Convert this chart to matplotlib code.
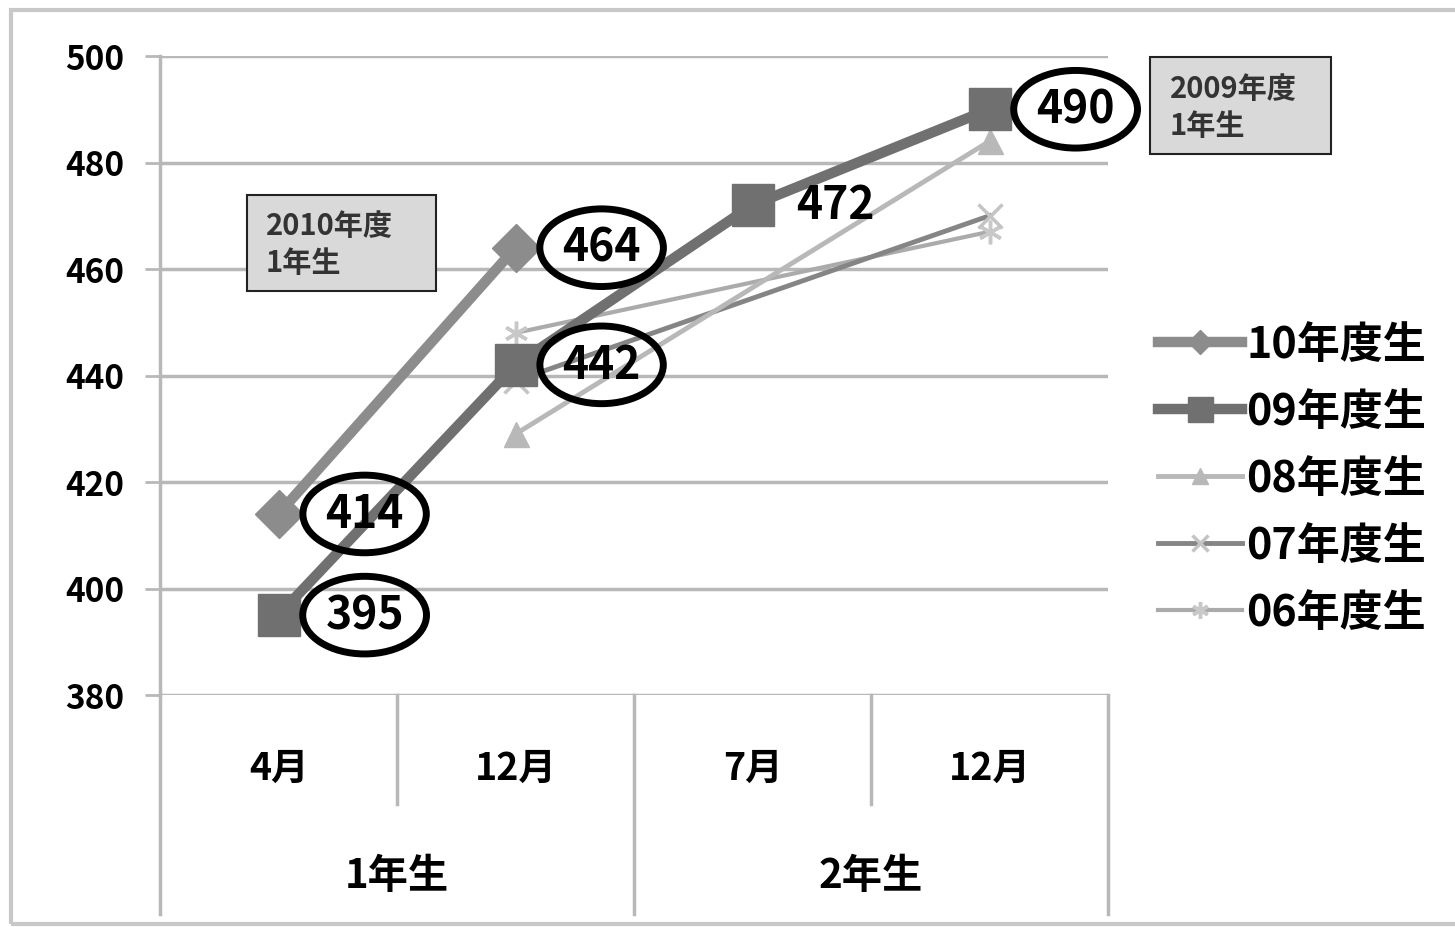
import matplotlib
matplotlib.use("Agg")
import matplotlib.pyplot as plt
from matplotlib.patches import Rectangle
from matplotlib.lines import Line2D
import matplotlib.transforms as mtransforms

plt.rcParams['font.family'] = ['Noto Sans CJK JP', 'DejaVu Sans']

# ---------------- data ----------------
months = ["4月", "12月", "7月", "12月"]
groups = ["1年生", "2年生"]
series_names = ["10年度生", "09年度生", "08年度生", "07年度生", "06年度生"]
s10 = [414, 464, None, None]
s09 = [395, 442, 472, 490]
s08 = [None, 429, None, 484]
s07 = [None, 439, None, 470]
s06 = [None, 448, None, 467]
yticks = [380, 400, 420, 440, 460, 480, 500]
circled = {"10年度生": [0, 1], "09年度生": [0, 1, 3]}
plain = {"09年度生": [2]}
box_texts = ["2010年度\n1年生", "2009年度\n1年生"]

W, H = 1455, 928
fig = plt.figure(figsize=(W / 100, H / 100), dpi=100)
fig.patch.set_facecolor("white")

def fx(px):
    return px / W

def fy(py):
    return 1 - py / H

ax = fig.add_axes([fx(160), fy(696), fx(1108) - fx(160), fy(57) - fy(696)])
ax.set_xlim(-0.5, 3.5)
ax.set_ylim(380, 500)
ax.set_facecolor("white")

grid_c = "#b8b8b8"
for yv in yticks:
    ax.axhline(yv, color=grid_c, lw=2.5, zorder=1)

for sp in ["top", "right", "bottom"]:
    ax.spines[sp].set_visible(False)
ax.spines["left"].set_color(grid_c)
ax.spines["left"].set_linewidth(2.5)

ax.set_yticks(yticks)
ax.set_yticklabels([str(v) for v in yticks], fontsize=24, fontweight="bold", color="black")
ax.tick_params(axis="y", length=11, width=2, color=grid_c, pad=15)
ax.set_xticks([])

styles = {
    "10年度生": dict(color="#8c8c8c", lw=7.5, marker="D", ms=24, mfc="#8c8c8c", mec="#8c8c8c"),
    "09年度生": dict(color="#707070", lw=7.5, marker="s", ms=30, mfc="#707070", mec="#707070"),
    "08年度生": dict(color="#b8b8b8", lw=3.5, marker="^", ms=18, mfc="#b8b8b8", mec="#b8b8b8"),
    "07年度生": dict(color="#858585", lw=3.5, marker="x", ms=17, mew=2.5, mec="#c4c4c4"),
    "06年度生": dict(color="#ababab", lw=3.0, marker=(6, 2, 0), ms=17, mew=2.5, mec="#c8c8c8"),
}
data = {"10年度生": s10, "09年度生": s09, "08年度生": s08, "07年度生": s07, "06年度生": s06}
zo = {"06年度生": 3, "07年度生": 4, "08年度生": 5, "09年度生": 6, "10年度生": 7}

for name in series_names:
    vals = data[name]
    xs = [i for i, v in enumerate(vals) if v is not None]
    ys = [v for v in vals if v is not None]
    ax.plot(xs, ys, zorder=zo[name], clip_on=False, **styles[name])

# data labels
for name, idxs in circled.items():
    for i in idxs:
        v = data[name][i]
        ax.annotate(str(v), (i, v), xytext=(62, 0), textcoords="offset points",
                    ha="center", va="center", fontsize=32, fontweight="bold", color="black",
                    bbox=dict(boxstyle="ellipse,pad=0.1", fc="none", ec="black", lw=5),
                    zorder=10, annotation_clip=False)
for name, idxs in plain.items():
    for i in idxs:
        v = data[name][i]
        ax.annotate(str(v), (i, v), xytext=(60, 0), textcoords="offset points",
                    ha="center", va="center", fontsize=32, fontweight="bold", color="black",
                    zorder=10, annotation_clip=False)

# multi-level category axis
trans = mtransforms.blended_transform_factory(ax.transData, ax.transAxes)
low = (696 - 915) / (696 - 57)
mid = (696 - 805) / (696 - 57)
for xv, y0 in [(-0.5, low), (0.5, mid), (1.5, low), (2.5, mid), (3.5, low)]:
    ax.plot([xv, xv], [0, y0], transform=trans, color=grid_c, lw=2.5, clip_on=False, zorder=1)
for i, m in enumerate(months):
    ax.text(i, (696 - 768) / (696 - 57), m, transform=trans, ha="center", va="center",
            fontsize=27, fontweight="bold", color="black")
for j, g in enumerate(groups):
    ax.text(0.5 + 2 * j, (696 - 877) / (696 - 57), g, transform=trans, ha="center", va="center",
            fontsize=29, fontweight="bold", color="black")

# annotation boxes
boxes = [((247, 196, 436, 292), (266, 226, 263)), ((1150, 58, 1331, 155), (1170, 89, 126))]
for txt, ((x0, y0, x1, y1), (tx, ty1, ty2)) in zip(box_texts, boxes):
    fig.add_artist(Rectangle((fx(x0), fy(y1)), fx(x1) - fx(x0), fy(y0) - fy(y1),
                             transform=fig.transFigure, fc="#d9d9d9", ec="#222222", lw=1.5))
    l1, l2 = txt.split("\n")
    fig.text(fx(tx), fy(ty1), l1, ha="left", va="center", fontsize=21, fontweight="bold", color="#333333")
    fig.text(fx(tx), fy(ty2), l2, ha="left", va="center", fontsize=21, fontweight="bold", color="#333333")

# legend
handles = []
leg_ms = {"10年度生": 12, "09年度生": 18, "08年度生": 12, "07年度生": 12, "06年度生": 12}
for name in series_names:
    st = dict(styles[name])
    st["ms"] = leg_ms[name]
    handles.append(Line2D([], [], **st))
leg = fig.legend(handles, series_names, loc="center left",
                 bbox_to_anchor=(fx(1158), fy(479)), frameon=False,
                 prop=dict(size=31, weight="bold"), handlelength=1.95,
                 handletextpad=0.1, labelspacing=0.53, borderpad=0, borderaxespad=0)

# outer frame
fig.add_artist(Rectangle((fx(11), fy(925)), 1.2, fy(11) - fy(925), transform=fig.transFigure,
                         fc="none", ec="#c8c8c8", lw=3))

fig.savefig("out.png", dpi=100, facecolor="white")
